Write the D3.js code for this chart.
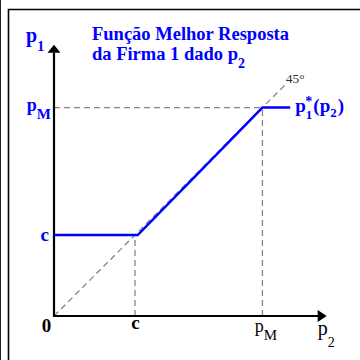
<!DOCTYPE html>
<html>
<head>
<meta charset="utf-8">
<script src="https://cdn.jsdelivr.net/npm/d3@7/dist/d3.min.js"></script>
<style>
  html, body { margin: 0; padding: 0; background: #fff; }
  svg { display: block; }
  text { font-family: "Liberation Serif", "Times New Roman", serif; }
</style>
</head>
<body>
<svg id="chart" width="360" height="360"></svg>
<script>
// Model parameters (price units)
const c = 30;          // marginal cost
const pM = 77.2;       // monopoly price

// Best response of firm 1 to p2: p1 = c below c, just under p2 between c and pM, pM above
const responseP2 = [0, 31, 77.2, 87.5];
const responseP1 = [30, 30, 77.2, 77.2];

// 45-degree reference line
const diagonalP = [0, 85.5];

// Axis extents and tick marks
const axisMaxP2 = 101;
const axisMaxP1 = 100.5;
const xTickValues = [c, pM];
const xTickNames = [["c", ""], ["p", "M"]];
const yTickValues = [c, pM];
const yTickNames = [["c", ""], ["p", "M"]];

const titleLines = [["Função Melhor Resposta", ""], ["da Firma 1 dado p", "2"]];

const BLUE = "#0000ff";
const GRAY = "#858585";

const svg = d3.select("#chart");

// frame
svg.append("line").attr("x1", 0.5).attr("x2", 0.5).attr("y1", 0).attr("y2", 360)
  .attr("stroke", "#222").attr("stroke-width", 1);
svg.append("path").attr("d", "M8.5,360V9.5H360")
  .attr("fill", "none").attr("stroke", "#000").attr("stroke-width", 1.6);

const x = d3.scaleLinear().domain([0, 100]).range([54, 324]);
const y = d3.scaleLinear().domain([0, 100]).range([316, 46]);

// dashed guide lines
const guides = [
  [[0, pM], [pM, pM]],
  [[pM, 0], [pM, pM]],
  [[c, 0], [c, c]],
  [[diagonalP[0], diagonalP[0]], [diagonalP[1], diagonalP[1]]]
];
const line = d3.line().x(d => x(d[0])).y(d => y(d[1]));
svg.append("g").selectAll("path").data(guides).join("path")
  .attr("d", line)
  .attr("fill", "none")
  .attr("stroke", GRAY)
  .attr("stroke-width", 1.3)
  .attr("stroke-dasharray", "6,4");

// axes lines with arrowheads
const ax = svg.append("g");
ax.append("line").attr("x1", x(0)).attr("x2", x(axisMaxP2) - 8)
  .attr("y1", y(0)).attr("y2", y(0)).attr("stroke", "#000").attr("stroke-width", 2.2);
ax.append("path")
  .attr("d", `M${x(axisMaxP2)},${y(0)}L${x(axisMaxP2) - 9},${y(0) - 6}L${x(axisMaxP2) - 9},${y(0) + 6}Z`)
  .attr("fill", "#000");
ax.append("line").attr("x1", x(0)).attr("x2", x(0))
  .attr("y1", y(0) + 1).attr("y2", y(axisMaxP1) + 8).attr("stroke", "#000").attr("stroke-width", 2.2);
ax.append("path")
  .attr("d", `M${x(0)},${y(axisMaxP1)}L${x(0) - 6.5},${y(axisMaxP1) + 8}L${x(0) + 6.5},${y(axisMaxP1) + 8}Z`)
  .attr("fill", "#000");

// best response line
svg.append("path")
  .datum(responseP2.map((p2, i) => [p2, responseP1[i]]))
  .attr("d", line)
  .attr("fill", "none")
  .attr("stroke", BLUE)
  .attr("stroke-width", 2.4)
  .attr("stroke-linejoin", "miter");

function subText(sel, main, sub, size, subSize, subDy) {
  sel.text(null);
  sel.append("tspan").text(main).attr("font-size", size);
  if (sub) sel.append("tspan").text(sub).attr("font-size", subSize).attr("dy", subDy);
}

// x axis tick labels
const xAxis = svg.append("g").attr("transform", `translate(0,${y(0)})`)
  .call(d3.axisBottom(x).tickValues(xTickValues).tickSize(0).tickFormat(""));
xAxis.select(".domain").remove();
xAxis.selectAll(".tick text").each(function (d, i) {
  const t = d3.select(this).attr("dy", null).attr("fill", "#000");
  if (i === 0) {
    t.attr("y", 13).attr("font-weight", "bold").attr("text-anchor", "middle");
    subText(t, xTickNames[i][0], xTickNames[i][1], 19, 14, 0);
  } else {
    t.attr("y", 16).attr("x", 3).attr("font-weight", "normal").attr("text-anchor", "middle");
    subText(t, xTickNames[i][0], xTickNames[i][1], 18, 15, 8);
  }
});

// y axis tick labels
const yAxis = svg.append("g").attr("transform", `translate(${x(0)},0)`)
  .call(d3.axisLeft(y).tickValues(yTickValues).tickSize(0).tickFormat(""));
yAxis.select(".domain").remove();
yAxis.selectAll(".tick text").each(function (d, i) {
  const t = d3.select(this).attr("dy", null).attr("fill", BLUE)
    .attr("font-weight", "bold").attr("text-anchor", "end");
  if (i === 0) {
    t.attr("x", -5).attr("y", 5);
    subText(t, yTickNames[i][0], yTickNames[i][1], 19, 14, 0);
  } else {
    t.attr("x", -3).attr("y", 2.5);
    subText(t, yTickNames[i][0], yTickNames[i][1], 18, 15, 8);
  }
});

// origin label
svg.append("text").attr("x", x(0) - 7.5).attr("y", y(0) + 16)
  .attr("text-anchor", "middle").attr("font-weight", "bold").attr("font-size", 19)
  .attr("fill", "#000").text("0");

// axis titles
const yTitle = svg.append("text").attr("x", x(0) - 28).attr("y", y(axisMaxP1) - 3)
  .attr("fill", BLUE).attr("font-weight", "bold");
subText(yTitle, "p", "1", 20, 14, 9);

const xTitle = svg.append("text").attr("x", x(axisMaxP2) - 9).attr("y", y(0) + 19)
  .attr("fill", "#000");
subText(xTitle, "p", "2", 20, 14, 12);

// best response label p1*(p2)
const brLabel = svg.append("text")
  .attr("x", x(responseP2[3]) + 5).attr("y", y(responseP1[3]) + 4)
  .attr("fill", BLUE).attr("font-weight", "bold").attr("font-size", 19);
brLabel.append("tspan").text("p");
brLabel.append("tspan").text("1").attr("font-size", 13).attr("dy", 7);
brLabel.append("tspan").text("(p").attr("dx", 1).attr("dy", -7);
brLabel.append("tspan").text("2").attr("font-size", 13).attr("dy", 5);
brLabel.append("tspan").text(")").attr("dy", -5).attr("dx", 1);
// star sits above the subscript 1
svg.append("text")
  .attr("x", x(responseP2[3]) + 15).attr("y", y(responseP1[3]) - 2)
  .attr("fill", BLUE).attr("font-weight", "bold").attr("font-size", 14).text("*");

// 45 degree label
svg.append("text").attr("x", x(diagonalP[1]) + 1).attr("y", y(diagonalP[1]) - 2)
  .attr("font-family", "Liberation Sans, Arial, sans-serif")
  .attr("font-size", 13.5).attr("fill", "#333").text("45°");

// title
const title = svg.append("g").attr("fill", BLUE).attr("font-weight", "bold");
titleLines.forEach((ln, i) => {
  const t = title.append("text").attr("x", 92).attr("y", 40 + i * 20);
  subText(t, ln[0], ln[1], 18.5, 14, 8);
});
</script>
</body>
</html>
